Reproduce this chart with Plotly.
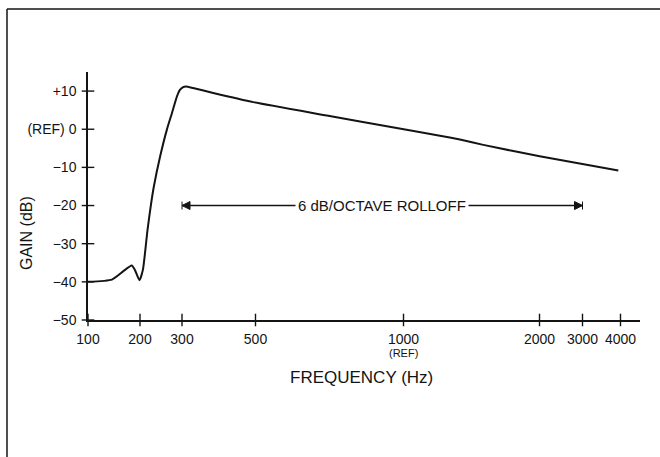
import numpy as np
import plotly.graph_objects as go

# ---- data ----
FREQ_HZ = [100, 146, 168, 184, 190, 199, 207, 218, 226, 233, 248, 264, 276, 288,
           295, 302, 311, 330, 385, 494, 741, 977, 1268, 1415, 1587, 2004, 3942]
GAIN_DB = [-40, -39.4, -37.2, -35.7, -36.8, -39.6, -36.8, -26.3, -19.8, -15.0, -7.1,
           -0.1, 4.2, 8.6, 10.3, 11.0, 11.2, 10.8, 9.5, 7.1, 3.6, 0.3, -1.7, -2.7,
           -4.1, -7.1, -10.8]

X_TICK_HZ = [100, 200, 300, 500, 1000, 2000, 3000, 4000]
X_TICK_LABELS = ["100", "200", "300", "500", "1000", "2000", "3000", "4000"]
# the original frequency axis is hand-spaced (non-uniform): scale units for each tick
X_TICK_SCALE = [0, 52, 94, 167.5, 315.5, 451.5, 494.5, 532.5]

Y_TICK_DB = [10, 0, -10, -20, -30, -40, -50]
Y_TICK_LABELS = ["+10", "(REF) 0", "\u221210", "\u221220", "\u221230", "\u221240", "\u221250"]

ROLLOFF_HZ = [300, 3000]
ROLLOFF_DB = -20
ROLLOFF_LABEL = "6 dB/OCTAVE ROLLOFF"
REF_HZ = 1000

X_TITLE = "FREQUENCY (Hz)"
Y_TITLE = "GAIN (dB)"


def to_scale(hz):
    return np.interp(hz, X_TICK_HZ, X_TICK_SCALE)


# ---- layout geometry ----
W, H = 660, 457
L, R, T, B = 88, 20, 72, 137
PW, PH = W - L - R, H - T - B


def px_x(px):
    return (px - L) / PW


def px_y(py):
    return 1 - (py - T) / PH


INK = "#141414"
FONT = "Liberation Sans, Arial, DejaVu Sans, sans-serif"

fig = go.Figure()

# response curve
fig.add_trace(go.Scatter(
    x=to_scale(FREQ_HZ), y=GAIN_DB, mode="lines",
    line=dict(color=INK, width=2, shape="spline", smoothing=0.5),
    hoverinfo="skip", showlegend=False))

# crossing tick marks on both axes
fig.add_trace(go.Scatter(
    x=to_scale(X_TICK_HZ), y=[Y_TICK_DB[-1]] * len(X_TICK_HZ), mode="markers",
    marker=dict(symbol="line-ns-open", size=9, color=INK,
                line=dict(color=INK, width=1.4)),
    cliponaxis=False, hoverinfo="skip", showlegend=False))
fig.add_trace(go.Scatter(
    x=[0] * len(Y_TICK_DB), y=Y_TICK_DB, mode="markers",
    marker=dict(symbol="line-ew-open", size=9, color=INK,
                line=dict(color=INK, width=1.4)),
    cliponaxis=False, hoverinfo="skip", showlegend=False))

# rolloff dimension arrow
fig.add_trace(go.Scatter(
    x=to_scale(ROLLOFF_HZ), y=[ROLLOFF_DB] * 2, mode="lines+markers",
    line=dict(color=INK, width=1.4),
    marker=dict(symbol=["arrow-bar-left", "arrow-bar-right"], size=8, color=INK,
                line=dict(color=INK, width=1)),
    cliponaxis=False, hoverinfo="skip", showlegend=False))

annotations = [
    dict(x=float(np.mean(to_scale(ROLLOFF_HZ))), y=ROLLOFF_DB, xref="x", yref="y",
         text=ROLLOFF_LABEL, showarrow=False, bgcolor="white", borderpad=2,
         font=dict(family=FONT, size=15, color=INK)),
    dict(x=float(to_scale(REF_HZ)), y=0, xref="x", yref="paper", text="(REF)",
         showarrow=False, yanchor="top", yshift=-25,
         font=dict(family=FONT, size=11, color=INK)),
    dict(x=px_x(361), y=px_y(377), xref="paper", yref="paper", text=X_TITLE,
         showarrow=False, xanchor="center", yanchor="middle",
         font=dict(family=FONT, size=17, color=INK)),
    dict(x=px_x(26), y=px_y(233), xref="paper", yref="paper", text=Y_TITLE,
         showarrow=False, textangle=-90, xanchor="center", yanchor="middle",
         font=dict(family=FONT, size=16, color=INK)),
]

shapes = [
    # scanned page frame (top and left edges)
    dict(type="line", xref="paper", yref="paper", x0=px_x(7), x1=px_x(660),
         y0=px_y(9), y1=px_y(9), line=dict(color=INK, width=1.5)),
    dict(type="line", xref="paper", yref="paper", x0=px_x(7), x1=px_x(7),
         y0=px_y(9), y1=px_y(457), line=dict(color=INK, width=1.5)),
]

fig.update_layout(
    width=W, height=H, margin=dict(l=L, r=R, t=T, b=B, autoexpand=False),
    paper_bgcolor="white", plot_bgcolor="white", showlegend=False,
    hovermode=False, annotations=annotations, shapes=shapes,
    font=dict(family=FONT, color=INK),
    xaxis=dict(range=[0, 552], showgrid=False, zeroline=False,
               showline=True, linecolor=INK, linewidth=1.5,
               tickmode="array", tickvals=to_scale(X_TICK_HZ), ticktext=X_TICK_LABELS,
               ticks="", ticklabelstandoff=5, tickfont=dict(size=14, color=INK)),
    yaxis=dict(range=[-50, 15], showgrid=False, zeroline=False,
               showline=True, linecolor=INK, linewidth=1.5,
               tickmode="array", tickvals=Y_TICK_DB, ticktext=Y_TICK_LABELS,
               ticks="", ticklabelstandoff=7, tickfont=dict(size=14, color=INK)),
)

fig.write_html(
    "out.html", config={"displayModeBar": False},
    post_script="document.body.style.margin='0';document.body.style.overflow='hidden';")
